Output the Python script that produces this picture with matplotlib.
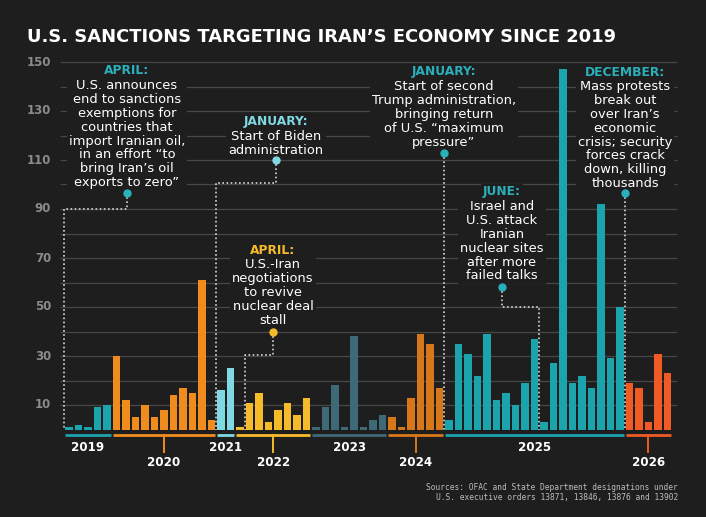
import matplotlib
matplotlib.use('Agg')
import matplotlib.pyplot as plt

# sanctions designations per period, grouped by year
years = ['2019', '2020', '2021', '2022', '2023', '2024', '2025', '2026']
v2019 = [1, 2, 1, 9, 10]
v2020 = [30, 12, 5, 10, 5, 8, 14, 17, 15, 61, 4]
v2021 = [16, 25]
v2022 = [1, 11, 15, 3, 8, 11, 6, 13]
v2023 = [1, 9, 18, 1, 38, 1, 4, 6]
v2024 = [5, 1, 13, 39, 35, 17]
v2025 = [4, 35, 31, 22, 39, 12, 15, 10, 19, 37, 3, 27, 147, 19, 22, 17, 92, 29, 50]
v2026 = [19, 17, 3, 31, 23]
values_by_year = [v2019, v2020, v2021, v2022, v2023, v2024, v2025, v2026]
year_colors = ['#1ba3ae', '#f08b1d', '#80d8e3', '#f6bb2b', '#3e6a77', '#d8771a', '#1ba3ae', '#f05a24']
label_low = [False, True, False, True, False, True, False, True]
ytick_vals = [10, 30, 50, 70, 90, 110, 130, 150]

bg = '#1e1e1e'
teal = '#2ab0ba'
W, H = 706, 517
fig = plt.figure(figsize=(W / 100, H / 100), dpi=100, facecolor=bg)
ax = fig.add_axes([0, 0, 1, 1])
ax.set_facecolor(bg)

# layout: bar i centred at 69 + 9.5*i px, zero at 429.5 px, 2.45 px per sanction
x0, dx = 69, 9.5
y0, dy = 429.5, 2.45
ax.set_xlim(-x0 / dx, (W - x0) / dx)
ax.set_ylim((y0 - H) / dy, y0 / dy)
ax.axis('off')


def px(x):
    return (x - x0) / dx


def py(y):
    return (y0 - y) / dy


# grid + y labels
ax.hlines(range(10, 151, 10), px(60), px(677), color='#474747', lw=0.9, zorder=0)
for t in ytick_vals:
    ax.text(px(51), t, str(t), ha='right', va='center', color='#8b8b8b',
            fontsize=8.5, fontweight='bold')

# bars, year brackets, year labels
i = 0
for yr, vals, col, low in zip(years, values_by_year, year_colors, label_low):
    idx = list(range(i, i + len(vals)))
    ax.bar(idx, vals, width=0.74, color=col, zorder=2)
    a, b = idx[0] - 0.42, idx[-1] + 0.42
    ax.plot([a, b], [-2.1, -2.1], color=col, lw=2, solid_capstyle='butt')
    mid = (a + b) / 2
    if low:
        ax.plot([mid, mid], [-2.1, -9.3], color=col, lw=1.4)
        ax.text(mid, -13.4, yr, ha='center', va='center', color='white',
                fontsize=8.6, fontweight='bold')
    else:
        ax.text(mid, -7.2, yr, ha='center', va='center', color='white',
                fontsize=8.6, fontweight='bold')
    i += len(vals)

box = dict(boxstyle='square,pad=0.15', fc=bg, ec='none')
dots = dict(color='#d9d9d9', lw=1.2, ls=(0, (1, 1.5)), zorder=1.5)


def note(bx, tx, hy, head, body, col, doty, elbow=None):
    ax.text(tx, hy, head, ha='center', va='center', color=col, fontsize=8.8,
            fontweight='bold', bbox=box, zorder=3)
    ax.text(tx, hy - 3.4, body, ha='center', va='top', color='white', fontsize=9.4,
            linespacing=1.08, bbox=box, zorder=3)
    ax.plot(tx, doty, 'o', color=col, ms=5, zorder=4)
    if elbow is None:
        ax.plot([bx, bx], [doty, 0], **dots)
    else:
        ax.plot([tx, tx, bx, bx], [doty, elbow, elbow, 0], **dots)


note(-0.5, px(127), py(71), 'APRIL:',
     'U.S. announces\nend to sanctions\nexemptions for\ncountries that\n'
     'import Iranian oil,\nin an effort \u201cto\nbring Iran\u2019s oil\nexports to zero\u201d',
     teal, py(193), py(209))
note(15.5, px(276), py(122), 'JANUARY:', 'Start of Biden\nadministration',
     '#80d8e3', py(160), py(183))
note(18.5, px(273), py(250), 'APRIL:',
     'U.S.-Iran\nnegotiations\nto revive\nnuclear deal\nstall',
     '#f6bb2b', py(332), py(355))
note(39.5, px(444), py(72), 'JANUARY:',
     'Start of second\nTrump administration,\nbringing return\nof U.S. \u201cmaximum\npressure\u201d',
     teal, py(153))
note(49.5, px(502), py(192), 'JUNE:',
     'Israel and\nU.S. attack\nIranian\nnuclear sites\nafter more\nfailed talks',
     teal, py(287), py(307))
note(58.5, px(625), py(72), 'DECEMBER:',
     'Mass protests\nbreak out\nover Iran\u2019s\neconomic\ncrisis; security\n'
     'forces crack\ndown, killing\nthousands',
     teal, py(193))

fig.text(27 / W, 1 - 42 / H, 'U.S. SANCTIONS TARGETING IRAN\u2019S ECONOMY SINCE 2019',
         color='white', fontsize=12.85, fontweight='bold', va='baseline', ha='left')

ax.text(px(678), py(483),
        'Sources: OFAC and State Department designations under\n'
        'U.S. executive orders 13871, 13846, 13876 and 13902',
        ha='right', va='top', multialignment='right', family='DejaVu Sans Mono',
        fontsize=5.7, color='#bdbdbd', linespacing=1.1)

fig.savefig('out.png', dpi=100, facecolor=bg)
